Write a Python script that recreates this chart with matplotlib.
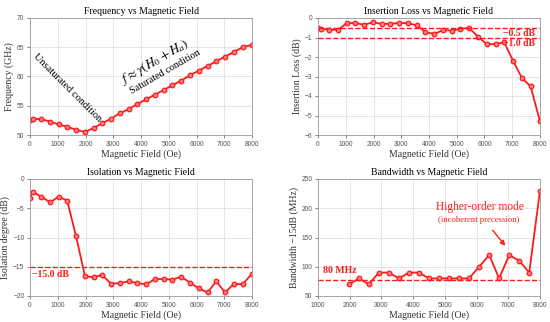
import matplotlib.pyplot as plt

plt.rcParams['font.family'] = ['Liberation Serif', 'DejaVu Serif']
plt.rcParams['mathtext.fontset'] = 'stix'

# Данные
field = [0, 100, 400, 730, 1030, 1340, 1660, 1980, 2290, 2600, 2920, 3240, 3550, 3870,
         4190, 4500, 4820, 5130, 5450, 5760, 6080, 6400, 6710, 7030, 7350, 7660, 8000]
freq = [52.5, 52.8, 52.7, 52.3, 51.8, 51.4, 50.9, 50.5, 51.2, 52.0, 52.8, 53.7, 54.4, 55.3,
        56.1, 56.9, 57.7, 58.5, 59.3, 60.2, 61.0, 61.8, 62.6, 63.4, 64.2, 65.0, 65.4]
ins_loss = [-0.5, -0.55, -0.6, -0.6, -0.27, -0.25, -0.35, -0.22, -0.3, -0.3, -0.25, -0.27, -0.37, -0.72,
            -0.82, -0.62, -0.65, -0.55, -0.52, -0.95, -1.35, -1.33, -1.25, -2.2, -3.08, -3.5, -5.3]
isolation = [-3.2, -2.2, -3.0, -4.0, -3.0, -3.7, -9.8, -16.6, -16.8, -16.4, -17.9, -17.8, -17.5, -17.8,
             -18.0, -17.1, -17.1, -17.2, -16.7, -17.7, -18.7, -19.4, -17.5, -19.4, -17.9, -18.0, -16.2]
bw_field = field[7:]
bandwidth = [70, 80, 70, 90, 90, 80, 90, 90, 80, 80, 80, 80, 80, 100, 120, 80, 120, 110, 90, 230]

red = '#ff1a1a'
line_kw = dict(color=red, lw=1.3, marker='o', ms=3.3, mfc='#ff8080', mec=red, mew=0.9)

fig = plt.figure(figsize=(5.5, 3.22), dpi=100)
W, H = 550, 322
def mk(l, t, r, b):
    return fig.add_axes([l / W, 1 - b / H, (r - l) / W, (b - t) / H])

ax1 = mk(30, 18, 252, 135)
ax2 = mk(318, 18, 540, 135)
ax3 = mk(30, 179, 252, 296)
ax4 = mk(318, 179, 540, 296)

for ax in (ax1, ax2, ax3, ax4):
    ax.grid(True, color='#e0e0e0', lw=0.6)
    ax.set_axisbelow(True)
    ax.tick_params(labelsize=4.8, length=2, width=0.5, colors='#555555', pad=2)
    for lab in ax.get_xticklabels() + ax.get_yticklabels():
        lab.set_family(['Liberation Sans', 'DejaVu Sans'])
    for s in ax.spines.values():
        s.set_color('#999999')
        s.set_linewidth(0.6)
    ax.set_xlabel('Magnetic Field (Oe)', fontsize=7, labelpad=1, color='#333333')

# 1
ax1.plot(field, freq, **line_kw)
ax1.set_xlim(0, 8000)
ax1.set_ylim(50, 70)
ax1.set_xticks(range(0, 8001, 1000))
ax1.set_yticks([50, 55, 60, 65, 70])
ax1.set_title('Frequency vs Magnetic Field', fontsize=7, pad=3)
ax1.set_ylabel('Frequency (GHz)', fontsize=7, labelpad=2, color='#333333')
ax1.text(1330, 58.0, 'Unsaturated condition', fontsize=7.5, rotation=-45, ha='center', va='center')
ax1.text(4500, 62.5, r'$f \approx \gamma(H_0 + H_a)$', fontsize=9.5, rotation=30, ha='center', va='center')
ax1.text(4870, 60.8, 'Saturated condition', fontsize=7.3, rotation=30, ha='center', va='center')

# 2
ax2.plot(field, ins_loss, **line_kw)
ax2.axhline(-0.5, color=red, ls='--', lw=1)
ax2.axhline(-1.0, color=red, ls='--', lw=1)
ax2.set_xlim(0, 8000)
ax2.set_ylim(-6, 0)
ax2.set_xticks(range(0, 8001, 1000))
ax2.set_title('Insertion Loss vs Magnetic Field', fontsize=7, pad=3)
ax2.set_ylabel('Insertion Loss (dB)', fontsize=7, labelpad=2, color='#333333')
ax2.text(7820, -0.77, '\u22120.5 dB', color=red, fontsize=7, fontweight='bold', ha='right', va='center')
ax2.text(7820, -1.33, '\u22121.0 dB', color=red, fontsize=7, fontweight='bold', ha='right', va='center')

# 3
ax3.plot(field, isolation, **line_kw)
ax3.axhline(-15, color=red, ls='--', lw=1)
ax3.set_xlim(0, 8000)
ax3.set_ylim(-20, 0)
ax3.set_xticks(range(0, 8001, 1000))
ax3.set_yticks([-20, -15, -10, -5, 0])
ax3.set_title('Isolation vs Magnetic Field', fontsize=7, pad=3)
ax3.set_ylabel('Isolation degree (dB)', fontsize=7, labelpad=2, color='#333333')
ax3.text(80, -16.4, '\u221215.0 dB', color=red, fontsize=7, fontweight='bold', ha='left', va='center')

# 4
ax4.plot(bw_field, bandwidth, **line_kw)
ax4.axhline(78, color=red, ls='--', lw=1)
ax4.set_xlim(1000, 8000)
ax4.set_ylim(50, 250)
ax4.set_xticks(range(1000, 8001, 1000))
ax4.set_yticks([50, 100, 150, 200, 250])
ax4.set_title('Bandwidth vs Magnetic Field', fontsize=7, pad=3)
ax4.set_ylabel('Bandwidth \u221215dB (MHz)', fontsize=7, labelpad=2, color='#333333')
ax4.text(1160, 93, '80 MHz', color=red, fontsize=7, fontweight='bold', ha='left', va='center')
ax4.text(6100, 202, 'Higher-order mode', color=red, fontsize=8.3, ha='center', va='center')
ax4.text(6080, 180, '(incoherent precession)', color=red, fontsize=6.2, ha='center', va='center')
ax4.annotate('', xy=(6960, 132), xytext=(6455, 166),
             arrowprops=dict(arrowstyle='-|>', color=red, lw=1, mutation_scale=7))

fig.savefig('out.png', dpi=100)
